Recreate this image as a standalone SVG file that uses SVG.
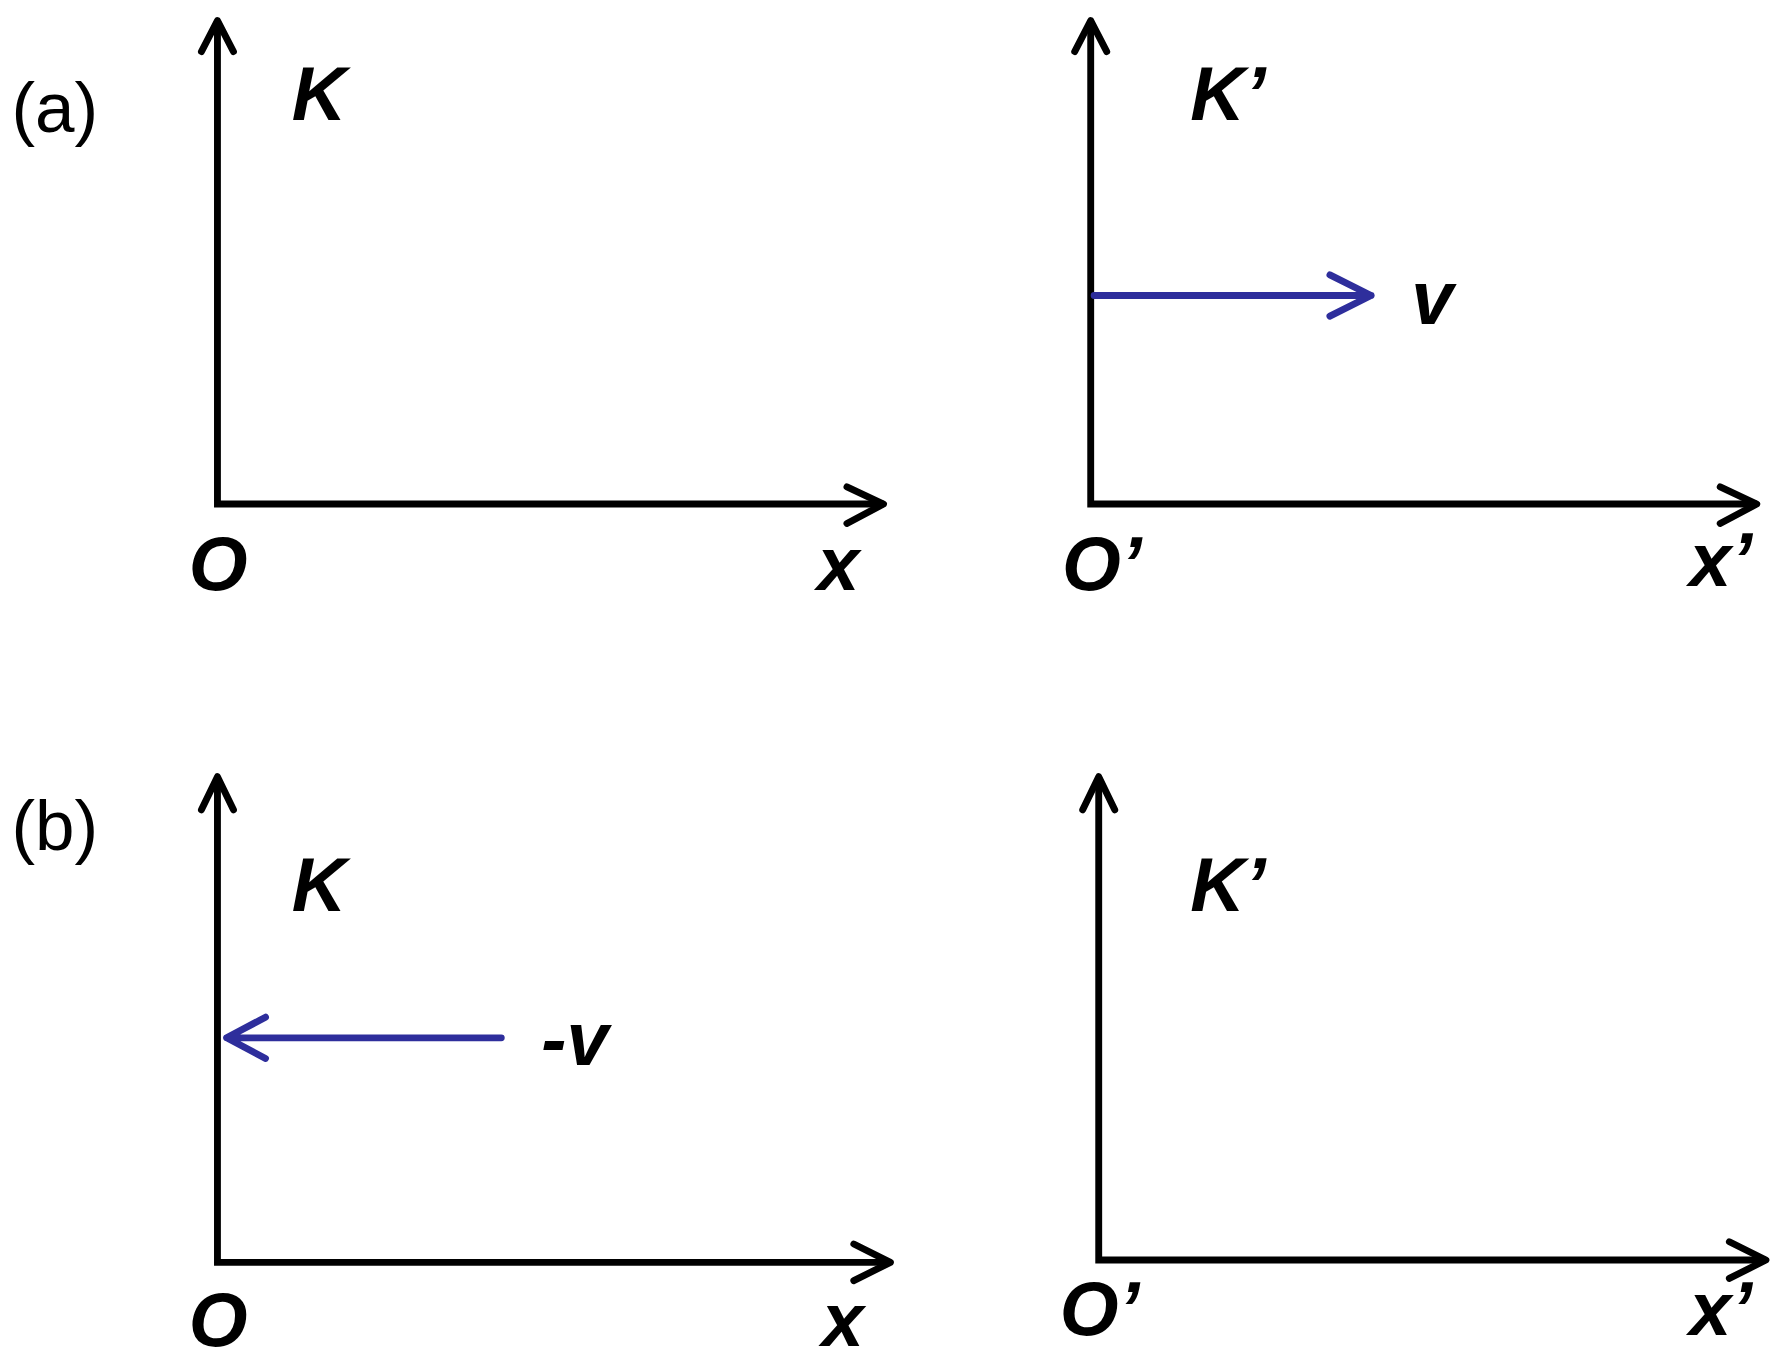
<svg xmlns="http://www.w3.org/2000/svg" width="1790" height="1370" viewBox="0 0 1790 1370">
<style>
.ax{stroke:#000;stroke-width:6;fill:none}
.hd{stroke:#000;stroke-width:6;fill:none;stroke-linecap:round;stroke-linejoin:round}
.bl{stroke:#2e2e9c;stroke-width:6;fill:none;stroke-linecap:round;stroke-linejoin:round}
.lb{font-family:"Liberation Sans",Arial,sans-serif;font-weight:bold;font-style:italic;font-size:66px;fill:#000}
.pl{font-family:"Liberation Sans",Arial,sans-serif;font-size:62px;fill:#000}
</style>
<rect width="1790" height="1370" fill="#fff"/>
<g transform="scale(1.1445,1.1455)">
<g id="panel-a-K">
<path class="ax" d="M190,20 V440 H772"/>
<path class="hd" d="M176,45 L190,18 L204,45 M740,425 L772,440 L740,457"/>
<text class="lb" x="255" y="105" font-size="76">K</text>
<text class="lb" x="165" y="515">O</text>
<text class="lb" x="714" y="515">x</text>
</g>
<g id="panel-a-K2">
<path class="ax" d="M953,20 V440 H1535"/>
<path class="hd" d="M939,45 L953,18 L967,45 M1503,425 L1535,440 L1503,457"/>
<text class="lb" x="1040" y="105" font-size="76">K’</text>
<text class="lb" x="928" y="515">O’</text>
<text class="lb" x="1476" y="512">x’</text>
</g>
<g id="panel-b-K">
<path class="ax" d="M190,680 V1102 H778"/>
<path class="hd" d="M176,707 L190,678 L204,707 M746,1086 L778,1102 L746,1118"/>
<text class="lb" x="255" y="795" font-size="76">K</text>
<text class="lb" x="165" y="1175">O</text>
<text class="lb" x="718" y="1175">x</text>
</g>
<g id="panel-b-K2">
<path class="ax" d="M960,680 V1100 H1543"/>
<path class="hd" d="M946,707 L960,678 L974,707 M1511,1084 L1543,1100 L1511,1116"/>
<text class="lb" x="1040" y="795" font-size="76">K’</text>
<text class="lb" x="926" y="1165">O’</text>
<text class="lb" x="1476" y="1165">x’</text>
</g>
<g id="connectors">
<path class="bl" d="M956,258 H1198 M1162,240 L1198,258 L1162,276"/>
<path class="bl" d="M438,906 H198 M232,888 L198,906 L232,924"/>
</g>
<text class="lb" x="1233" y="283">v</text>
<text class="lb" x="473" y="930">-v</text>
<text class="pl" x="10" y="115">(a)</text>
<text class="pl" x="10" y="742">(b)</text>
</g>
</svg>
